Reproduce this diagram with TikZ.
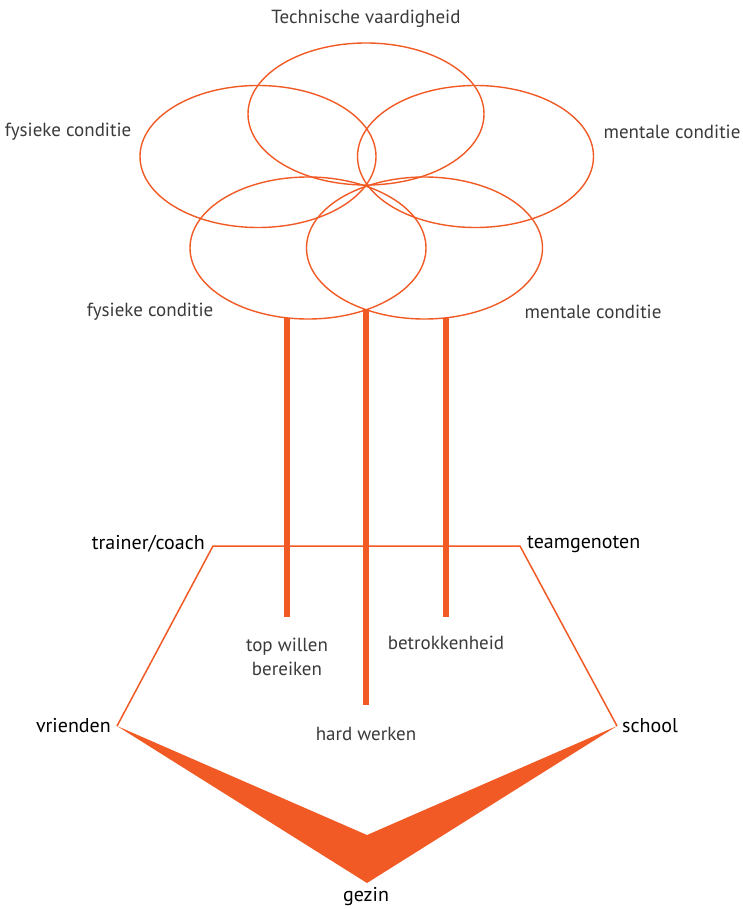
\documentclass[tikz,border=0pt]{standalone}
\usepackage{fontspec}
\setmainfont{PT Sans}
\usetikzlibrary{shapes.geometric}
\definecolor{orng}{HTML}{F15A24}
\definecolor{lighttxt}{HTML}{3A3A3A}
\tikzset{
  ring/.style={ellipse, draw=orng, line width=1.4pt, minimum width=236pt, minimum height=142pt, inner sep=0pt},
  lbl/.style={text=lighttxt, font=\fontsize{19}{23.5}\selectfont, inner sep=0pt, align=center},
  blbl/.style={text=black, font=\fontsize{20}{22}\selectfont, inner sep=0pt},
  bar/.style={draw=orng, line width=5.5pt},
  edge/.style={draw=orng, line width=1.5pt, line join=miter},
}
\begin{document}
\begin{tikzpicture}[x=1pt,y=-1pt]
\useasboundingbox (0,0) rectangle (743,909);
% ellipses
\node[ring] (tec) at (366,114) {};
\node[ring] (fys1) at (258,156.5) {};
\node[ring] (men1) at (475.5,156.5) {};
\node[ring] (fys2) at (308,248) {};
\node[ring] (men2) at (424.5,248) {};
% labels of ellipses
\node[lbl] (ltec) at (366,19) {Technische vaardigheid};
\node[lbl] (lfys1) at (68,132) {fysieke conditie};
\node[lbl] (lmen1) at (672,132) {mentale conditie};
\node[lbl] (lfys2) at (150,312) {fysieke conditie};
\node[lbl] (lmen2) at (593,312) {mentale conditie};
% pentagon corners
\coordinate (tc) at (213,546);
\coordinate (tg) at (520,546);
\coordinate (vr) at (117,726);
\coordinate (sc) at (617,726);
\coordinate (tip) at (367,883);
\coordinate (inn) at (367,835);
\draw[edge] (vr) -- (tc) -- (tg) -- (sc);
\fill[orng] (vr) -- (tip) -- (sc) -- (inn) -- cycle;
% bars
\coordinate (b1t) at (287,318);
\coordinate (b1b) at (287,617);
\coordinate (b2t) at (366,309);
\coordinate (b2b) at (366,705);
\coordinate (b3t) at (446,318);
\coordinate (b3b) at (446,617);
\draw[bar] (b1t) -- (b1b);
\draw[bar] (b2t) -- (b2b);
\draw[bar] (b3t) -- (b3b);
% bar labels
\node[lbl] (top) at (287,657) {top willen\\bereiken};
\node[lbl] (betr) at (446,643) {betrokkenheid};
\node[lbl] (hard) at (366,734) {hard werken};
% bottom labels
\node[blbl, anchor=east] (ltc) at (205,544) {trainer/coach};
\node[blbl, anchor=west] (ltg) at (527,544) {teamgenoten};
\node[blbl, anchor=east] (lvr) at (111,726) {vrienden};
\node[blbl, anchor=west] (lsc) at (622,726) {school};
\node[blbl] (lgz) at (366,897) {gezin};
\end{tikzpicture}
\end{document}
